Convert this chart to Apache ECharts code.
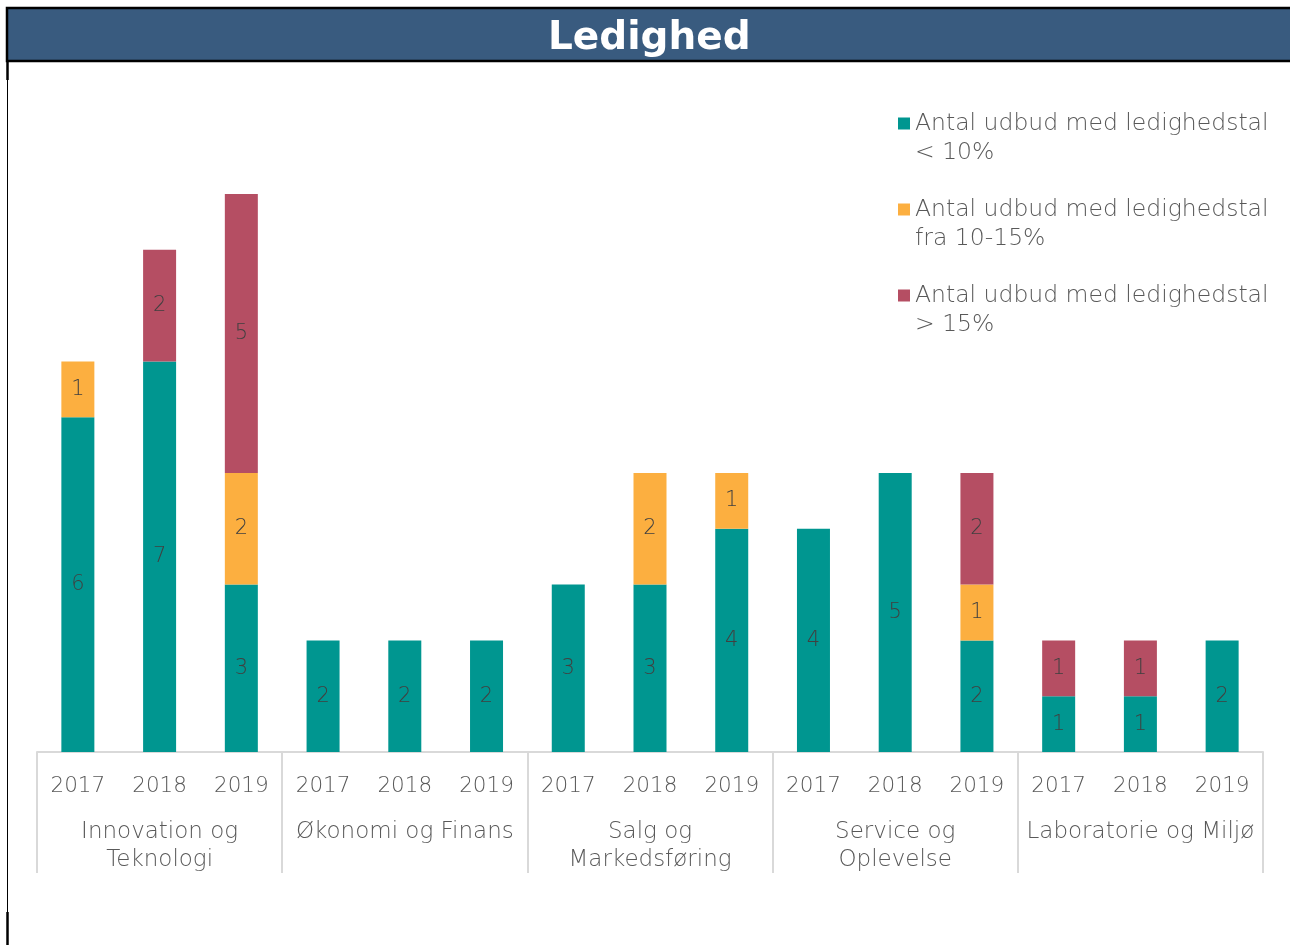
<!DOCTYPE html>
<html>
<head>
<meta charset="utf-8">
<title>Ledighed</title>
<script src="https://cdn.jsdelivr.net/npm/echarts@6/dist/echarts.min.js"></script>
<style>
	html, body {
		margin: 0;
		padding: 0;
		background: #fff;
	}
	#myChart {
		width: 1290px;
		height: 945px;
	}
</style>
</head>
<body>
<div id="myChart"></div>
<script>
	// kategorier
	var years = ['2017', '2018', '2019', '2017', '2018', '2019', '2017', '2018', '2019', '2017', '2018', '2019', '2017', '2018', '2019']
	var groups = ['Innovation og\nTeknologi', 'Økonomi og Finans', 'Salg og\nMarkedsføring', 'Service og\nOplevelse', 'Laboratorie og Miljø']

	// værdier pr. år (samme rækkefølge som years)
	var under10 = [6, 7, 3, 2, 2, 2, 3, 3, 4, 4, 5, 2, 1, 1, 2]
	var fra10til15 = [1, 0, 2, 0, 0, 0, 0, 2, 1, 0, 0, 1, 0, 0, 0]
	var over15 = [0, 2, 5, 0, 0, 0, 0, 0, 0, 0, 0, 2, 1, 1, 0]

	var seriesNames = ['Antal udbud med ledighedstal\n< 10%', 'Antal udbud med ledighedstal\nfra 10-15%', 'Antal udbud med ledighedstal\n> 15%']
	var colors = ['#009690', '#fcaf40', '#b54e63']

	var font = '"DejaVu Sans", sans-serif'

	var labelStyle = {
		show: true,
		position: 'inside',
		color: '#404040',
		fontFamily: font,
		fontWeight: 200,
		fontSize: 21,
		formatter: function(p) {
			return p.value > 0 ? p.value : ''
		}
	}

	function makeSeries(name, data, color) {
		return {
			name: name,
			type: 'bar',
			stack: 'total',
			barWidth: 33,
			itemStyle: { color: color },
			label: labelStyle,
			emphasis: { disabled: true },
			data: data
		}
	}

	const myChart = echarts.init(document.getElementById('myChart'));
	myChart.setOption({
		animation: false,
		title: {
			text: 'Ledighed',
			left: 548,
			top: 19,
			padding: 0,
			textStyle: {
				color: '#fff',
				fontFamily: font,
				fontWeight: 'bold',
				fontSize: 39
			}
		},
		graphic: [{
				type: 'rect',
				z: -1,
				shape: { x: 7, y: 8, width: 1290, height: 53 },
				style: { fill: '#395b7f', stroke: '#000', lineWidth: 2.5 }
			},
			{
				type: 'line',
				shape: { x1: 7.5, y1: 60, x2: 7.5, y2: 80 },
				style: { stroke: '#000', lineWidth: 2.5 }
			},
			{
				type: 'line',
				shape: { x1: 7.5, y1: 80, x2: 7.5, y2: 912 },
				style: { stroke: '#000', lineWidth: 1 }
			},
			{
				type: 'line',
				shape: { x1: 7.5, y1: 912, x2: 7.5, y2: 945 },
				style: { stroke: '#000', lineWidth: 2.5 }
			}
		],
		legend: {
			orient: 'vertical',
			left: 898,
			top: 80,
			padding: 0,
			itemGap: -1,
			itemWidth: 12,
			itemHeight: 12,
			icon: 'rect',
			selectedMode: false,
			// tom første linje, så ikonet står ud for første tekstlinje
			formatter: function(name) {
				return '\n' + name
			},
			textStyle: {
				color: '#595959',
				fontFamily: font,
				fontWeight: 200,
				fontSize: 23.5,
				lineHeight: 29
			},
			data: seriesNames
		},
		grid: {
			left: 37,
			right: 27,
			top: 194,
			bottom: 193
		},
		xAxis: [{
				type: 'category',
				data: years,
				axisLine: { lineStyle: { color: '#d9d9d9', width: 2 } },
				axisTick: { show: false },
				axisLabel: {
					color: '#595959',
					fontFamily: font,
					fontWeight: 200,
					fontSize: 21.5,
					margin: 23,
					interval: 0
				}
			},
			{
				type: 'category',
				position: 'bottom',
				data: groups,
				axisLine: { show: false },
				axisTick: {
					show: true,
					length: 121,
					interval: 0,
					lineStyle: { color: '#d9d9d9', width: 2 }
				},
				axisLabel: {
					color: '#595959',
					fontFamily: font,
					fontWeight: 200,
					fontSize: 23,
					lineHeight: 28,
					margin: 66,
					interval: 0
				}
			}
		],
		yAxis: {
			type: 'value',
			min: 0,
			max: 10,
			show: false,
			splitLine: { show: false }
		},
		series: [
			makeSeries(seriesNames[0], under10, colors[0]),
			makeSeries(seriesNames[1], fra10til15, colors[1]),
			makeSeries(seriesNames[2], over15, colors[2])
		]
	})
</script>
</body>
</html>
